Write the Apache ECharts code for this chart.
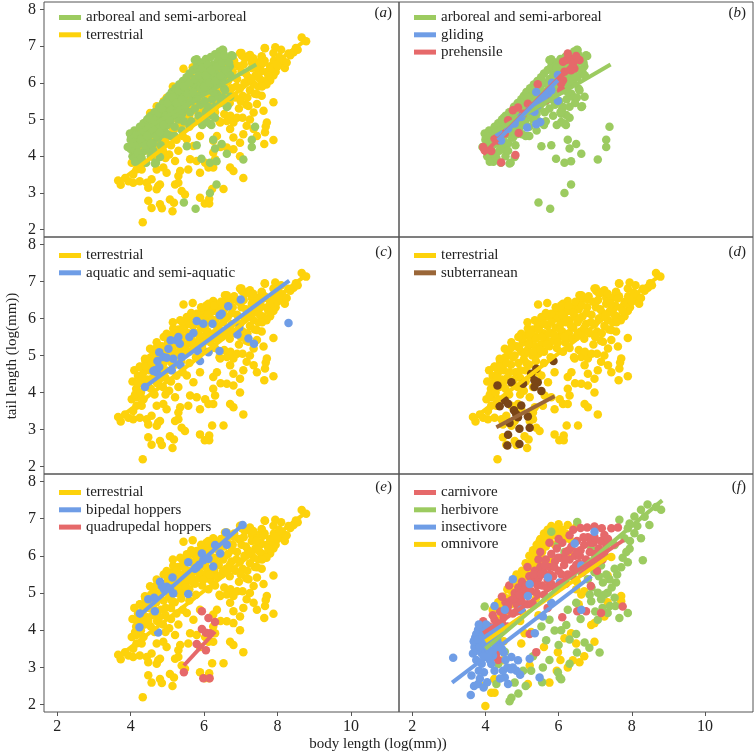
<!DOCTYPE html>
<html><head><meta charset="utf-8">
<script src="https://cdn.jsdelivr.net/npm/echarts@6/dist/echarts.min.js"></script>
<style>html,body{margin:0;padding:0;background:#fff}#c{width:756px;height:756px}</style>
</head><body><div id="c"></div>
<script>
// ---------- data (log(mm)) ----------
const xTicks = [2, 4, 6, 8, 10];
const yTicks = [2, 3, 4, 5, 6, 7, 8];
const panelLabels = ['a', 'b', 'c', 'd', 'e', 'f'];

const terrestrial = [
[3.66,3.34],[3.73,3.22],[3.85,3.41],[3.94,3.32],[4.07,3.28],[4.25,3.32],[4.07,3.5],[4.16,3.64],[4.03,3.82],[4.16,3.87],[4.35,3.82],[4.3,3.64],[4.44,3.28],[4.57,3.37],[4.48,3.14],[4.71,3.1],[4.75,3.19],[4.8,3.23],[4.71,3.64],[4.89,3.69],[4.98,3.55],[5.21,3.87],[5.35,3.6],[5.3,3.46],[5.3,3.28],[5.21,3.23],[5.39,3.05],[5.48,2.96],[5.57,3.64],[5.62,3.92],[5.8,3.87],[5.89,3.55],[6.03,3.82],[6.3,3.92],[6.12,3.69],[6.25,3.69],[6.22,3.11],[6.53,3.11],[6.71,3.69],[6.8,3.6],[7.07,3.41],[6.98,4.0],[6.8,4.19],[6.62,4.24],
[4.48,2.79],[4.57,2.59],[4.8,2.69],[4.85,2.58],[4.33,2.2],[5.07,2.82],[5.18,2.73],[5.14,2.5],[5.89,2.87],[6.02,2.71],[6.14,2.84],[6.14,2.71],
[6.25,4.42],[6.35,4.55],[6.44,4.92],[6.62,4.96],[6.8,4.92],[6.71,4.74],[6.8,4.51],[6.98,4.37],[7.07,4.6],[7.16,4.83],[7.35,4.74],[7.44,4.55],[7.66,4.65],[7.89,4.44],[7.64,4.33],[7.68,4.81],[7.71,4.92],[7.62,5.24],[7.35,5.19],[7.21,5.37],[7.44,5.42],[7.44,5.69],[7.57,5.65],[7.89,5.47],
[5.44,6.38],[5.69,6.42],[6.12,6.4],[6.25,6.47],[6.05,6.2],[6.35,6.2],[6.55,6.38],[6.8,6.51],[7.03,6.74],[7.21,6.71],[7.3,6.56],[7.65,6.95],[7.89,6.81],[7.94,6.97],[7.57,6.7],[7.71,6.29],[7.8,6.06],[7.89,6.2],[8.07,6.51],[8.2,6.4],[8.44,6.83],[8.66,7.23],[8.78,7.13],
[5.53,4.46],[5.71,4.28],[5.89,4.55],[6.25,4.1],[6.45,4.25],[5.05,4.05],[5.3,4.15],[4.95,3.95],
[4.05,4.3],[4.1,4.6],[4.15,4.1],[4.2,4.45],[4.25,4.7],[4.3,4.25],[4.12,3.95],[4.28,4.0],[4.35,4.55],[4.4,4.85],[4.38,4.15],[4.45,4.35],
[4.5,4.6],[4.55,4.95],[4.6,4.4],[4.62,5.1],[4.7,4.75],[4.72,4.25],[4.8,5.0],[4.82,4.55],[4.85,5.25],[4.9,4.8],[4.95,4.4],[4.98,5.1],[4.55,4.1],[4.65,3.95],[4.88,4.15],
[5.02,5.35],[5.05,4.9],[5.1,4.6],[5.12,5.55],[5.15,5.15],[5.2,4.75],[5.22,5.4],[5.28,5.0],[5.3,5.7],[5.35,5.25],[5.38,4.85],[5.4,5.5],[5.45,5.05],[5.48,5.8],[5.1,4.3],[5.25,4.45],[5.42,4.55],
[5.52,5.3],[5.55,5.95],[5.58,5.6],[5.6,5.1],[5.65,5.45],[5.7,5.8],[5.72,6.05],[5.75,5.25],[5.8,5.6],[5.82,5.95],[5.85,5.4],[5.9,6.15],[5.92,5.75],[5.95,5.2],[5.98,6.0],[5.6,4.8],[5.78,4.95],
[6.02,5.5],[6.05,5.85],[6.08,6.3],[6.1,5.65],[6.15,6.05],[6.18,5.35],[6.2,5.9],[6.25,6.2],[6.28,5.6],[6.3,5.95],[6.35,5.45],[6.38,6.3],[6.4,5.75],[6.45,6.05],[6.48,5.5],[6.12,5.1],[6.3,5.2],[6.42,4.95],
[6.52,5.9],[6.55,6.25],[6.6,5.65],[6.62,6.5],[6.65,6.05],[6.7,5.45],[6.75,5.85],[6.78,6.3],[6.85,5.6],[6.9,6.1],[6.95,5.3],[6.98,5.85],[6.55,5.15],[6.72,5.1],[6.9,5.05],
[7.02,6.3],[7.05,5.65],[7.1,6.0],[7.15,5.4],[7.2,6.15],[7.25,5.8],[7.3,6.4],[7.35,5.95],[7.4,6.2],[7.45,6.55],[7.48,5.9],[7.05,5.05],[7.25,5.0],
[7.55,6.35],[7.6,6.05],[7.65,6.6],[7.7,5.95],[7.8,6.45],[7.9,6.6],[7.95,6.3],[8.05,6.7],[8.15,6.6],[8.3,6.8],[8.35,6.75],
[4.25,4.69],[4.39,4.91],[4.53,5.18],[4.71,5.36],[4.98,5.59],[5.16,5.73],[5.43,5.86],[5.53,6.04],[5.8,6.13],[6.07,6.36],[6.57,6.63],[6.98,6.81],[7.2,6.72],[7.66,6.94],[7.02,6.81],[7.11,6.67],[7.25,6.76],[7.34,6.67],[6.62,6.63],[7.57,6.72],[7.61,6.54],
[4.18,4.25],[4.32,4.42],[4.42,4.7],[4.48,4.25],[4.58,4.8],[4.65,4.55],[4.75,4.95],[4.78,4.35],[4.92,5.2],[4.95,4.6],[5.0,5.45],[5.08,5.05],[5.12,4.8],[5.18,5.3],[5.25,5.6],[5.32,5.1],[5.38,5.45],[5.45,5.7],[5.5,5.15],[5.55,5.5],[5.62,5.85],[5.68,5.3],[5.74,5.6],[5.8,5.9],[5.88,5.55],[5.92,6.3],[5.98,5.35],[6.04,5.7],[6.1,6.1],[6.16,5.5],[6.22,5.95],[6.28,6.35],[6.34,5.8],[6.4,6.15],[6.46,6.45],[6.52,5.6],[6.58,6.0],[6.64,6.35],[6.7,5.75],[6.76,6.15],[6.82,6.6],[6.88,5.9],[6.94,6.45],[7.0,5.5],[7.08,6.5],[7.14,6.25],[7.18,5.6],[7.28,6.1],[7.38,5.7],[7.42,6.4],[7.52,6.1],[7.58,5.9],[7.75,6.2],[7.85,6.4],[8.0,6.45],[8.1,6.9],[8.25,6.55],[8.5,6.95],[8.55,6.9],[5.65,6.15],[5.35,5.95],[5.15,5.9],[4.9,5.5],[4.7,5.2]
];

const arboreal = [
[3.92,4.25],[4.01,4.59],[4.0,4.2],[4.05,4.0],[4.08,4.4],[4.1,4.7],[4.12,4.15],[4.15,3.9],[4.18,4.5],[4.2,4.3],[4.22,3.85],[4.25,4.8],[4.28,4.05],[4.3,4.6],[4.1,3.95],
[4.32,4.35],[4.35,4.9],[4.38,4.15],[4.4,4.65],[4.42,3.82],[4.45,5.0],[4.48,4.45],[4.5,4.8],[4.52,4.2],[4.55,5.1],[4.58,4.6],[4.6,4.95],[4.62,4.35],[4.65,5.2],[4.66,3.8],[4.68,4.75],
[4.72,5.05],[4.75,4.5],[4.78,5.35],[4.8,4.85],[4.82,5.15],[4.85,4.6],[4.88,5.45],[4.9,5.0],[4.92,4.7],[4.95,5.3],[4.98,5.55],[5.0,4.85],[5.02,5.2],[5.05,5.65],[5.08,4.95],[5.1,5.4],
[5.12,5.75],[5.15,5.1],[5.18,5.5],[5.2,4.8],[5.22,5.85],[5.25,5.3],[5.28,5.65],[5.3,5.0],[5.32,5.95],[5.35,5.45],[5.38,5.75],[5.4,5.15],[5.42,6.05],[5.45,5.6],[5.48,5.3],[5.5,5.9],
[5.52,6.15],[5.55,5.45],[5.58,5.75],[5.6,6.25],[5.62,5.2],[5.65,6.0],[5.68,5.55],[5.7,6.35],[5.72,5.85],[5.75,5.3],[5.78,6.1],[5.8,6.45],[5.82,5.65],[5.85,5.95],[5.88,6.3],[5.9,5.4],
[5.92,6.55],[5.95,6.1],[5.98,5.75],[6.0,6.4],[6.02,5.5],[6.05,6.65],[6.08,6.0],[6.1,5.3],[6.12,6.3],[6.15,5.8],[6.18,6.7],[6.2,6.15],[6.22,5.55],[6.25,6.5],[6.28,5.95],[6.3,6.78],
[6.32,6.25],[6.35,5.7],[6.38,6.6],[6.4,6.05],[6.42,6.85],[6.45,5.45],[6.48,6.4],[6.5,6.9],[6.52,6.15],[6.55,5.84],[6.6,6.6],[6.62,5.34],[6.65,6.3],[6.7,6.45],[6.71,5.62],[6.75,6.75],[6.78,6.73],[6.64,5.36],
[5.4,4.7],[5.6,4.85],[5.95,4.85],[6.2,4.85],[5.1,4.55],[6.3,5.05],[5.8,6.64],[5.75,6.62],[6.52,6.89],[6.57,5.8],[6.39,5.62],[6.07,4.93],[6.21,5.12],[6.12,5.34],[6.07,5.16],[6.16,4.89],
[5.53,4.27],[5.8,4.3],[5.93,3.93],[6.25,4.45],[6.48,4.33],[6.62,4.07],[7.07,3.91],[7.3,4.25],[7.3,4.45],[7.39,4.8],[6.16,3.82],[6.34,3.86],[6.34,3.23],[6.16,3.0],[5.45,2.74],[5.77,2.57],[4.8,3.98],
[6.3,4.21],[4.22,3.89],[4.69,3.82],[4.04,4.57],[3.98,4.62],[4.25,4.03],
[4.05,4.35],[4.15,4.6],[4.2,4.1],[4.28,4.45],[4.35,4.7],[4.4,4.3],[4.45,4.55],[4.5,5.05],[4.55,4.35],[4.6,4.75],[4.65,4.95],[4.7,4.55],[4.75,5.2],[4.8,4.65],[4.85,5.3],[4.9,4.85],[4.95,5.1],[5.0,5.45],[5.05,5.0],[5.1,5.25],[5.15,5.6],[5.2,5.15],[5.25,5.45],[5.3,5.8],[5.35,5.25],[5.4,5.55],[5.45,5.9],[5.5,5.4],[5.55,5.7],[5.6,6.0],[5.65,5.5],[5.7,5.75],[5.75,6.1],[5.8,5.55],[5.85,6.2],[5.9,5.85],[5.95,6.4],[6.0,5.9],[6.05,6.2],[6.1,6.5],[6.15,6.0],[6.2,6.35],[6.25,5.75],[6.3,6.05],[6.35,6.45],[6.4,6.7],[6.45,6.2],[6.5,6.55],[6.55,6.75],[6.6,6.35],[6.68,6.55],[6.72,6.2],[4.0,4.45],[4.12,3.85],[4.3,3.95],[4.55,4.0],[4.62,4.15],[4.82,4.3],[5.0,4.6],[5.2,4.55],[5.45,4.95],[5.65,4.95],[5.85,5.1],[6.05,5.2],[6.3,5.35],[6.5,5.6]
];
const gliding = [
[4.36,4.64],[4.43,4.43],[4.62,4.75],[4.8,4.89],[4.98,5.07],[5.14,4.78],[5.39,4.87],[5.5,4.93],[5.34,5.21],[5.21,5.25],[5.3,5.34],[5.43,5.39],[5.53,5.53],[5.6,5.62],[5.71,5.71],[5.8,5.8],[5.82,6.0],[5.98,6.21],[5.98,5.51],[5.39,5.75]
];
const prehensile = [
[3.94,4.25],[3.98,4.16],[4.16,4.14],[4.25,4.48],[4.43,3.83],[4.82,4.03],[4.91,4.63],[4.75,5.25],[4.89,5.33],[5.03,5.16],[5.16,5.43],[5.43,5.96],[5.66,5.53],[6.07,5.8],[6.12,6.07],[6.16,6.3],[6.21,6.62],[6.3,6.66],[6.39,6.53],[6.43,6.39],[6.34,6.34],[6.57,6.62],[6.12,6.57],[6.25,6.8],[6.48,6.73],[4.62,4.98],[4.34,4.43],[4.53,4.62],[6.07,5.98]
];
const aquatic = [
[4.39,4.15],[4.66,4.6],[4.71,4.55],[4.62,4.58],[4.78,5.09],[4.73,4.85],[4.89,4.96],[4.98,4.94],[5.12,4.6],[5.16,4.91],[5.25,5.41],[5.3,5.5],[5.34,5.32],[5.36,4.73],[5.39,4.96],[5.6,5.5],[5.71,5.61],[5.8,5.93],[5.83,5.12],[5.89,4.85],[5.98,5.86],[6.12,5.09],[6.23,5.86],[6.42,5.12],[6.43,6.09],[6.48,6.13],[6.66,6.33],[6.91,5.57],[6.96,5.75],[7.0,6.51],[7.21,5.46],[7.36,5.32],[8.3,5.88],[5.09,5.41],[5.03,5.18],[4.78,4.69]
];
const subterranean = [
[4.33,4.19],[4.71,4.28],[5.03,4.24],[5.25,4.51],[5.39,4.64],[5.43,4.28],[5.34,4.15],[5.53,4.04],[5.86,4.85],[4.53,3.79],[4.39,3.63],[4.62,3.7],[4.78,3.52],[4.98,3.65],[4.89,3.33],[5.16,3.35],[4.66,3.18],[4.93,3.02],[5.21,3.05],[4.62,2.86],[4.6,2.57],[4.93,2.61],[4.84,3.42],[5.34,4.33]
];
const bipedal = [
[4.24,4.08],[4.25,4.45],[4.48,4.83],[4.64,4.87],[4.66,4.51],[4.8,5.3],[4.85,5.19],[4.91,5.1],[4.98,5.17],[5.07,5.12],[5.14,5.42],[5.16,4.99],[4.75,3.94],[5.57,4.97],[5.57,5.83],[5.75,5.65],[5.8,5.69],[5.87,5.76],[5.94,6.06],[5.98,5.88],[6.12,5.92],[6.25,5.71],[6.3,6.29],[6.44,6.06],[6.6,6.63],[6.62,6.3],[7.05,6.83]
];
const quadrupedal = [
[5.45,2.87],[5.8,3.63],[5.94,4.51],[6.12,4.33],[6.3,4.22],[5.94,4.03],[6.05,3.93],[6.16,3.92],[6.05,3.46],[5.98,2.71],[6.15,2.71]
];
const carnivore = [
[3.94,4.24],[4.25,4.28],[4.16,3.28],[4.3,3.37],[5.21,3.9],[5.39,3.41],[6.78,6.76],[6.98,6.79],[7.18,6.74],[7.25,6.56],[7.44,6.74],[7.62,6.76],[7.75,4.64],[6.75,4.51],[7.16,4.46],[6.51,4.51],[6.88,5.19],
[4.1,4.1],[4.2,4.4],[4.3,4.2],[4.4,4.5],[4.5,4.35],[4.55,4.75],[4.6,4.55],[4.7,4.8],[4.75,4.45],[4.8,5.0],[4.85,4.7],[4.9,5.15],[4.95,4.85],[5.0,5.3],[5.05,4.95],[5.1,5.2],[5.15,4.7],[5.2,5.45],[5.25,5.05],[5.3,5.3],[5.35,5.6],[5.4,5.0],[5.45,5.4],[5.5,5.7],[5.55,5.2],[5.6,5.55],[5.65,5.9],[5.7,5.35],[5.75,5.7],[5.8,6.05],[5.85,5.45],[5.9,5.85],[5.95,6.2],[6.0,5.6],[6.05,5.95],[6.1,6.35],[6.15,5.75],[6.2,6.1],[6.25,5.5],[6.3,5.9],[6.35,6.25],[6.4,5.65],[6.45,6.0],[6.5,6.4],[6.55,5.8],[6.6,6.15],[6.65,5.55],[6.7,6.3],[6.75,5.9],[6.8,6.5],[6.85,6.1],[6.9,5.75],[6.95,6.35],[7.0,6.05],[7.05,5.6],[7.1,6.2],[7.2,5.9],[7.3,6.3],
[5.3,4.7],[5.6,4.95],[5.9,5.15],[6.2,5.25],[5.0,4.5],[4.6,4.1],[5.75,6.35],[5.5,6.1],[6.4,6.7],[6.6,6.75],[4.45,4.9],[4.65,5.2],[5.15,5.7],[4.35,3.2],[4.12,3.45],[6.1,4.35],[5.7,4.6],
[4.62,4.65],[4.78,4.85],[4.92,4.95],[5.08,5.1],[5.22,5.25],[5.32,5.5],[5.42,5.2],[5.52,5.5],[5.62,5.75],[5.68,5.15],[5.78,5.5],[5.88,5.7],[5.98,5.95],[6.08,5.5],[6.18,5.9],[6.28,6.15],[6.38,5.45],[6.48,5.75],[6.58,6.0],[6.68,6.5],[6.78,5.7],[6.88,6.35],[6.98,6.5],[7.08,5.85],[7.15,6.4],[7.25,6.1],[7.35,6.45],[5.45,5.9],[5.2,5.05],[5.0,4.75],[4.85,4.5],[6.3,6.55],[6.5,6.1],[5.8,5.25],[6.0,6.45],[7.0,6.75],[4.25,4.05],[4.45,4.2]
];
const herbivore = [
[6.51,6.91],[7.66,6.97],[7.89,6.74],[7.94,6.87],[8.07,6.61],[8.25,6.47],[8.48,6.83],[8.8,7.24],[8.66,7.31],[8.3,5.88],[7.94,6.19],[7.89,5.83],[7.71,5.69],[7.53,5.65],[7.57,5.28],[7.39,5.37],[7.21,5.28],[7.07,5.01],[7.16,4.83],[7.34,5.01],[7.53,4.87],[7.34,4.46],[7.89,4.46],[7.66,4.33],[7.07,4.28],[7.12,3.4],[6.84,3.53],[6.71,3.67],[6.48,3.9],[6.21,4.14],[6.07,4.0],[5.89,3.99],[5.75,4.28],[5.53,4.1],[6.3,3.1],[5.98,2.87],[6.03,2.73],[6.07,2.68],[5.57,3.0],[4.71,2.18],[4.66,2.09],[4.8,2.59],[5.03,2.91],[5.25,2.91],[3.98,4.64],[4.98,4.74],[5.8,6.65],[5.98,6.29],[6.16,6.1],[6.89,6.19],[6.98,5.92],[6.62,5.56],[6.8,5.37],[6.98,5.56],[7.16,5.74],[7.25,6.01],[7.53,6.29],[7.8,6.47],[8.07,7.06],[8.25,7.24],[8.43,7.38],[6.48,4.74],[6.89,4.78],[6.25,4.55],[4.35,3.09],[4.53,3.42],[4.3,2.55],[5.66,3.73],
[7.3,5.5],[7.45,5.15],[7.6,5.5],[7.75,5.95],[7.85,6.1],[7.95,6.4],[8.15,6.8],[8.35,7.05],[7.4,4.65],[7.2,4.6],[7.55,4.65],[7.0,4.5],[7.1,5.45],[6.9,5.15],[7.25,4.95],[6.85,4.95],[6.6,4.3],[6.3,3.75],[6.0,3.6],[5.75,3.2],[6.5,3.4],[5.3,3.3],[5.55,2.6],[5.1,2.5],[4.9,2.3]
];
const insectivore = [
[3.12,3.26],[3.62,2.78],[3.69,2.5],[3.6,2.26],[3.8,2.55],[3.95,2.46],[3.71,3.64],[3.66,3.37],[3.8,4.01],[3.89,3.83],[4.07,3.73],[4.25,3.64],[3.98,3.28],[4.16,3.09],[4.25,2.91],[4.53,2.73],[4.75,3.0],[4.89,3.19],[5.21,3.23],[5.48,2.73],[4.25,4.65],[4.53,4.55],[4.75,5.37],[4.98,4.55],[5.16,4.92],[5.21,5.24],[5.71,5.42],[5.57,4.37],[6.03,5.28],[6.44,6.33],[6.98,6.65],[6.62,5.74],[6.62,4.55],[5.8,4.74],[5.35,3.92],[4.48,2.91],[4.71,3.28],[4.85,2.91],[4.62,2.55],[3.96,2.87],[4.21,3.32],[4.35,3.64],[3.82,2.91],[3.91,3.55],[4.12,3.46],[4.42,4.1],[3.98,4.1],[3.85,3.69],[3.75,3.46],[4.16,3.83],
[3.72,3.8],[3.78,3.6],[3.85,3.9],[3.9,3.7],[3.95,4.0],[4.0,3.85],[4.05,3.6],[4.1,3.95],[4.15,3.7],[4.2,4.05],[4.25,3.85],[4.3,3.55],[4.0,3.45],[3.88,3.4],[4.08,3.35],[3.7,3.55],[4.38,3.9],[4.02,4.15],[3.82,4.15],[4.2,3.45],
[3.68,3.7],[3.75,3.9],[3.8,3.75],[3.85,3.55],[3.92,3.85],[3.98,3.65],[4.05,3.9],[4.1,3.75],[4.18,3.9],[4.22,3.7],[4.28,4.0],[4.32,3.75],[3.95,3.3],[4.12,3.2],[3.9,3.1],[3.75,3.2],[4.45,3.5],[4.55,3.2],[4.6,3.0],[4.4,2.7],[3.85,2.7],[4.05,2.6],[4.7,2.95],[4.95,2.8],[4.5,3.4]
];
const omnivore = [
[5.48,6.4],[5.71,6.44],[6.25,6.83],[6.48,6.78],[7.71,4.92],[7.71,4.78],[7.34,4.75],[6.89,4.14],[6.98,3.69],[6.48,3.64],[6.57,3.14],[6.39,3.19],[6.25,3.0],[6.16,3.78],[6.34,3.92],[5.98,3.41],[5.95,2.91],[5.75,2.59],[5.16,2.55],[5.21,3.05],[4.98,3.64],[4.48,3.19],[4.24,2.69],[4.16,2.32],[4.25,2.32],[4.0,1.96],[3.96,2.5],[5.07,3.92],[6.98,4.19],[7.25,4.37],[7.34,5.47],[7.44,5.97],[6.62,4.96],[6.48,5.1],
[4.4,4.6],[4.5,4.9],[4.6,5.1],[4.7,4.7],[4.75,5.3],[4.85,5.5],[4.9,5.0],[5.0,5.6],[5.05,5.2],[5.1,5.8],[5.15,5.45],[5.2,6.0],[5.25,5.6],[5.3,6.15],[5.35,5.8],[5.4,6.3],[5.45,5.95],[5.5,6.45],[5.55,6.1],[5.6,6.6],[5.65,6.25],[5.7,6.7],[5.75,6.4],[5.8,6.8],[5.85,6.55],[5.9,6.3],[5.95,6.65],[6.0,6.85],[6.05,6.5],[6.1,6.7],[6.15,6.45],[6.2,6.6],[6.3,6.45],[4.3,4.3],[4.2,4.55],[4.55,4.45],[4.8,4.9],[5.0,5.0],[5.3,5.35],[5.55,5.6],[5.8,5.9],[6.35,6.05],[6.5,5.3],[6.7,5.05],[6.55,4.7],[5.45,4.4],[5.25,3.95],[4.95,4.25],
[4.62,4.85],[4.72,5.05],[4.82,5.25],[4.92,5.4],[5.02,5.5],[5.12,5.65],[5.22,5.8],[5.32,5.95],[5.42,6.1],[5.52,6.25],[5.62,6.4],[5.72,6.5],[5.82,6.6],[5.92,6.75],[6.02,6.6],[6.12,6.55],[5.18,5.25],[5.4,5.6],[4.45,4.4],[4.35,4.75],[5.58,5.9],[5.38,4.85],[4.5,3.7],[5.6,3.55],[6.7,3.3],[6.05,3.2]
];

// fitted regression lines: [start, end]
const fitTerrestrial = [[3.66,3.28],[8.75,7.15]];
const fitArboreal = [[3.92,4.47],[7.42,6.5]];
const fitGliding = [[4.34,4.44],[5.98,6.07]];
const fitPrehensile = [[3.94,4.05],[6.57,6.7]];
const fitAquatic = [[4.39,4.15],[8.32,7.02]];
const fitSubterranean = [[4.3,3.06],[5.89,3.9]];
const fitBipedal = [[4.21,4.37],[7.07,6.85]];
const fitQuadrupedal = [[5.45,3.05],[6.3,3.96]];
const fitCarnivore = [[3.94,3.92],[7.78,6.42]];
const fitHerbivore = [[4.0,3.5],[8.83,7.49]];
const fitInsectivore = [[3.09,2.59],[6.9,5.45]];
const fitOmnivore = [[4.0,3.7],[7.4,6.0]];

// ---------- styling ----------
const C = {
  green: '#9CCB60', yellow: '#FDD20B', blue: '#6F9DE6', red: '#E6696A',
  brown: '#7A4616', brownLine: '#9A6638'
};
const FONT = 'Liberation Serif';
const grids = [
  {left: 44, top: 2, width: 355, height: 235},
  {left: 399, top: 2, width: 354, height: 235},
  {left: 44, top: 237, width: 355, height: 237},
  {left: 399, top: 237, width: 354, height: 237},
  {left: 44, top: 474, width: 355, height: 238},
  {left: 399, top: 474, width: 354, height: 238}
];

const panels = [
  { pts: [['terrestrial', terrestrial, C.yellow], ['arboreal and semi-arboreal', arboreal, C.green]],
    fits: [['terrestrial', fitTerrestrial, C.yellow], ['arboreal and semi-arboreal', fitArboreal, C.green]],
    legend: ['arboreal and semi-arboreal', 'terrestrial'] },
  { pts: [['arboreal and semi-arboreal', arboreal, C.green], ['prehensile', prehensile, C.red], ['gliding', gliding, C.blue]],
    fits: [['arboreal and semi-arboreal', fitArboreal, C.green], ['prehensile', fitPrehensile, C.red], ['gliding', fitGliding, C.blue]],
    legend: ['arboreal and semi-arboreal', 'gliding', 'prehensile'] },
  { pts: [['terrestrial', terrestrial, C.yellow], ['aquatic and semi-aquatic', aquatic, C.blue]],
    fits: [['terrestrial', fitTerrestrial, C.yellow], ['aquatic and semi-aquatic', fitAquatic, C.blue]],
    legend: ['terrestrial', 'aquatic and semi-aquatic'] },
  { pts: [['terrestrial', terrestrial, C.yellow], ['subterranean', subterranean, C.brown]],
    fits: [['terrestrial', fitTerrestrial, C.yellow], ['subterranean', fitSubterranean, C.brownLine]],
    legend: ['terrestrial', 'subterranean'] },
  { pts: [['terrestrial', terrestrial, C.yellow], ['bipedal hoppers', bipedal, C.blue], ['quadrupedal hoppers', quadrupedal, C.red]],
    fits: [['terrestrial', fitTerrestrial, C.yellow], ['bipedal hoppers', fitBipedal, C.blue], ['quadrupedal hoppers', fitQuadrupedal, C.red]],
    legend: ['terrestrial', 'bipedal hoppers', 'quadrupedal hoppers'] },
  { pts: [['omnivore', omnivore, C.yellow], ['herbivore', herbivore, C.green], ['carnivore', carnivore, C.red], ['insectivore', insectivore, C.blue]],
    fits: [['omnivore', fitOmnivore, C.yellow], ['insectivore', fitInsectivore, C.blue], ['herbivore', fitHerbivore, C.green], ['carnivore', fitCarnivore, C.red]],
    legend: ['carnivore', 'herbivore', 'insectivore', 'omnivore'] }
];
const legendColor = {
  'terrestrial': C.yellow, 'arboreal and semi-arboreal': C.green, 'gliding': C.blue, 'prehensile': C.red,
  'aquatic and semi-aquatic': C.blue, 'subterranean': C.brownLine, 'bipedal hoppers': C.blue,
  'quadrupedal hoppers': C.red, 'carnivore': C.red, 'herbivore': C.green, 'insectivore': C.blue, 'omnivore': C.yellow
};

const xAxes = [], yAxes = [], series = [], legends = [], graphics = [];
const labelStyle = {fontFamily: FONT, fontSize: 16, color: '#222'};
grids.forEach((g, i) => {
  const bottomRow = i >= 4, leftCol = i % 2 === 0;
  xAxes.push({
    type: 'value', gridIndex: i, min: 1.64, max: 11.31,
    axisLine: {show: false}, splitLine: {show: false},
    axisTick: {show: bottomRow, customValues: xTicks, length: 4, lineStyle: {color: '#555'}},
    axisLabel: Object.assign({show: bottomRow, customValues: xTicks, margin: 7}, labelStyle)
  });
  yAxes.push({
    type: 'value', gridIndex: i, min: 1.8, max: 8.2,
    axisLine: {show: false}, splitLine: {show: false},
    axisTick: {show: leftCol, customValues: yTicks, length: 4, lineStyle: {color: '#555'}},
    axisLabel: Object.assign({show: leftCol, customValues: yTicks, margin: 8}, labelStyle)
  });
  const p = panels[i];
  p.pts.forEach(([name, data, color]) => {
    series.push({
      type: 'scatter', name: name, xAxisIndex: i, yAxisIndex: i, data: data,
      symbol: 'circle', symbolSize: 8.5, itemStyle: {color: color, opacity: 1},
      emphasis: {disabled: true}, silent: true, z: 2
    });
  });
  p.fits.forEach(([name, data, color]) => {
    series.push({
      type: 'line', name: name + ' fit', xAxisIndex: i, yAxisIndex: i, data: data,
      symbol: 'none', lineStyle: {color: color, width: 4, cap: 'butt'},
      emphasis: {disabled: true}, silent: true, z: 3
    });
  });
  const rowTop = [9, 247, 484][Math.floor(i / 2)];
  legends.push({
    show: true, orient: 'vertical', left: g.left + 15, top: rowTop, padding: 0,
    itemGap: 0.3, itemWidth: 22, itemHeight: 5, icon: 'rect', selectedMode: false,
    data: p.legend.map(n => ({name: n, itemStyle: {color: legendColor[n]}})),
    textStyle: {fontFamily: FONT, fontSize: 15, color: '#222', lineHeight: 17}
  });
  const labY = [15, 254, 489][Math.floor(i / 2)];
  graphics.push({
    type: 'text', right: 756 - (g.left + g.width) + 7, top: labY - 9,
    style: {
      text: '{n|(}{i|' + panelLabels[i] + '}{n|)}',
      rich: {n: {fontFamily: FONT, fontSize: 15, fill: '#222'}, i: {fontFamily: FONT, fontSize: 15, fontStyle: 'italic', fill: '#222'}}
    }
  });
});
graphics.push({
  type: 'text', left: 'center', top: 737,
  style: {text: 'body length (log(mm))', fontFamily: FONT, fontSize: 15, fill: '#222'}
});
graphics.push({
  type: 'text', x: 12, y: 356, rotation: Math.PI / 2,
  style: {text: 'tail length (log(mm))', fontFamily: FONT, fontSize: 15, fill: '#222', align: 'center', verticalAlign: 'middle'}
});

const chart = echarts.init(document.getElementById('c'), null, {renderer: 'canvas'});
chart.setOption({
  animation: false,
  backgroundColor: '#fff',
  grid: grids.map(g => Object.assign({show: true, borderColor: '#555', borderWidth: 1, containLabel: false}, g)),
  xAxis: xAxes, yAxis: yAxes, series: series, legend: legends, graphic: graphics
});
</script></body></html>
